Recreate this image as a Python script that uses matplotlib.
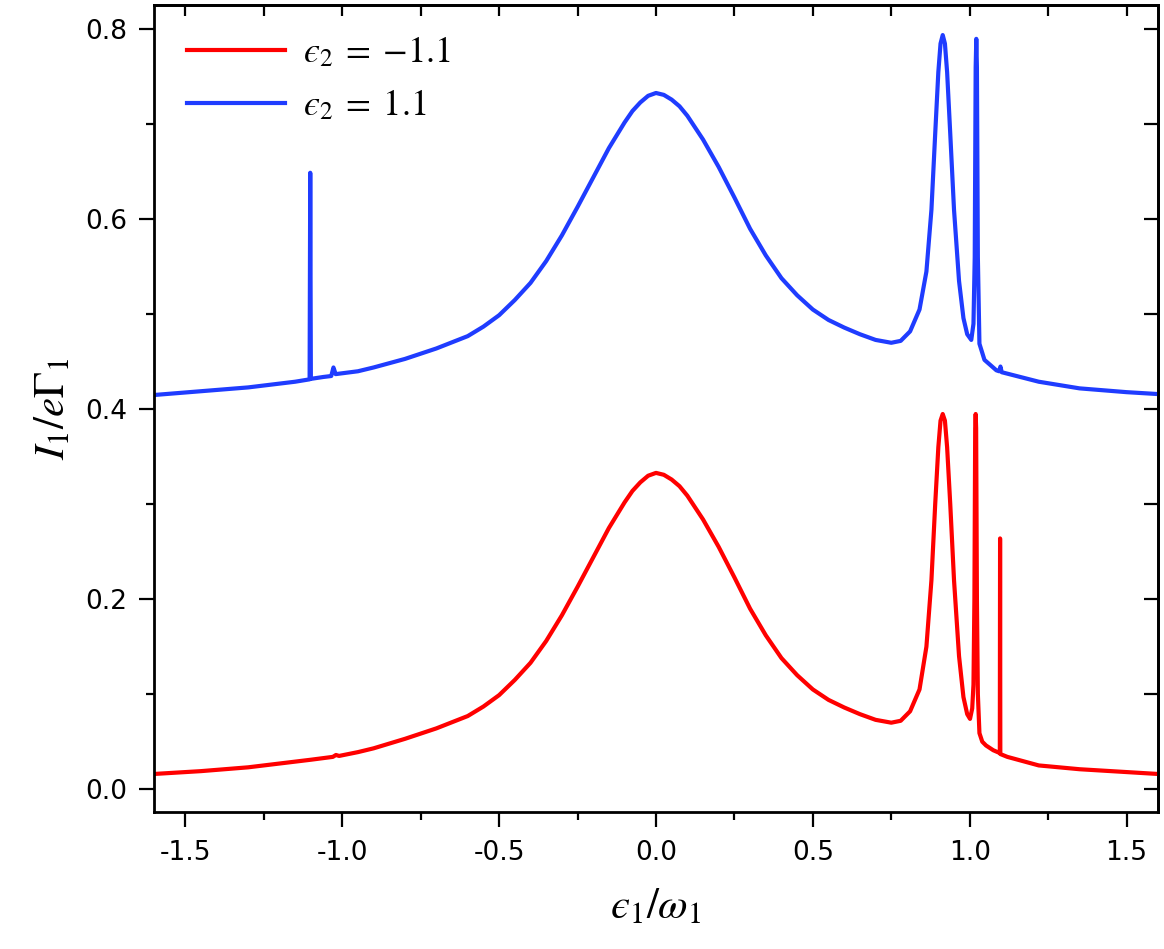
import numpy as np
import matplotlib
matplotlib.use("Agg")
import matplotlib.pyplot as plt
from matplotlib.ticker import MultipleLocator, FormatStrFormatter

plt.rcParams["font.family"] = ["DejaVu Sans"]
plt.rcParams["mathtext.fontset"] = "stix"
plt.rcParams["axes.unicode_minus"] = False

# eps2 = -1.1 (red)
x_red = [-1.6, -1.45, -1.3, -1.15, -1.1, -1.03, -1.02, -1.01, -0.95, -0.9,
         -0.8, -0.7, -0.6, -0.55, -0.5, -0.45, -0.4, -0.35, -0.3, -0.25,
         -0.2, -0.15, -0.1, -0.075, -0.05, -0.025, 0.0, 0.025, 0.05, 0.075,
         0.1, 0.15, 0.2, 0.25, 0.3, 0.35, 0.4, 0.45, 0.5, 0.55,
         0.6, 0.65, 0.7, 0.75, 0.78, 0.81, 0.84, 0.862, 0.878, 0.89,
         0.9, 0.907, 0.914, 0.921, 0.928, 0.938, 0.95, 0.966, 0.98, 0.992,
         1.001, 1.008, 1.012, 1.015, 1.0175, 1.019, 1.0205, 1.023, 1.026, 1.031,
         1.04, 1.052, 1.075, 1.096, 1.0968, 1.0976, 1.12, 1.22, 1.35, 1.5,
         1.6]
y_red = [0.016, 0.019, 0.023, 0.029, 0.031, 0.034, 0.036, 0.035, 0.039, 0.043,
         0.053, 0.064, 0.077, 0.087, 0.099, 0.115, 0.133, 0.156, 0.183, 0.213,
         0.244, 0.275, 0.302, 0.314, 0.323, 0.330, 0.333, 0.331, 0.326, 0.319,
         0.309, 0.284, 0.255, 0.223, 0.190, 0.162, 0.138, 0.120, 0.105, 0.094,
         0.086, 0.079, 0.073, 0.070, 0.072, 0.082, 0.105, 0.150, 0.220, 0.300,
         0.360, 0.388, 0.395, 0.388, 0.360, 0.300, 0.220, 0.140, 0.097, 0.079,
         0.074, 0.085, 0.110, 0.200, 0.380, 0.395, 0.380, 0.200, 0.100, 0.059,
         0.050, 0.046, 0.041, 0.038, 0.264, 0.037, 0.034, 0.025, 0.021, 0.018,
         0.016]

# eps2 = 1.1 (blue)
x_blue = [-1.6, -1.45, -1.3, -1.15, -1.104, -1.102, -1.1, -1.06, -1.035, -1.028,
          -1.021, -0.95, -0.9, -0.8, -0.7, -0.6, -0.55, -0.5, -0.45, -0.4,
          -0.35, -0.3, -0.25, -0.2, -0.15, -0.1, -0.075, -0.05, -0.025, 0.0,
          0.025, 0.05, 0.075, 0.1, 0.15, 0.2, 0.25, 0.3, 0.35, 0.4,
          0.45, 0.5, 0.55, 0.6, 0.65, 0.7, 0.75, 0.78, 0.81, 0.84,
          0.862, 0.878, 0.89, 0.9, 0.907, 0.914, 0.921, 0.928, 0.938, 0.95,
          0.966, 0.98, 0.992, 1.005, 1.012, 1.016, 1.019, 1.021, 1.023, 1.026,
          1.031, 1.047, 1.085, 1.094, 1.098, 1.102, 1.22, 1.35, 1.5, 1.6]
y_blue = [0.415, 0.419, 0.423, 0.429, 0.4315, 0.649, 0.432, 0.434, 0.435, 0.444,
          0.437, 0.440, 0.444, 0.453, 0.464, 0.477, 0.487, 0.499, 0.515, 0.533,
          0.556, 0.583, 0.613, 0.644, 0.675, 0.702, 0.714, 0.723, 0.730, 0.733,
          0.731, 0.726, 0.719, 0.709, 0.684, 0.655, 0.623, 0.590, 0.562, 0.538,
          0.520, 0.505, 0.494, 0.486, 0.479, 0.473, 0.470, 0.472, 0.482, 0.505,
          0.545, 0.610, 0.690, 0.755, 0.785, 0.794, 0.785, 0.755, 0.690, 0.610,
          0.535, 0.496, 0.479, 0.473, 0.490, 0.560, 0.760, 0.790, 0.760, 0.560,
          0.469, 0.452, 0.441, 0.440, 0.445, 0.439, 0.429, 0.422, 0.418, 0.416]

labels = ["$\u03f5_2\\;=\\;{-}1.1$", "$\u03f5_2\\;=\\;1.1$"]
colors = ["#ff0000", "#1f3cff"]

fig = plt.figure(figsize=(11.64, 9.49), dpi=100)
ax = fig.add_axes([0.1323, 0.1444, 0.8625, 0.8507])

ax.plot(x_red, y_red, color=colors[0], lw=3, label=labels[0], solid_joinstyle="round")
ax.plot(x_blue, y_blue, color=colors[1], lw=3, label=labels[1], solid_joinstyle="round")

ax.set_xlim(-1.6, 1.6)
ax.set_ylim(-0.024, 0.826)

ax.xaxis.set_major_locator(MultipleLocator(0.5))
ax.xaxis.set_minor_locator(MultipleLocator(0.25))
ax.yaxis.set_major_locator(MultipleLocator(0.2))
ax.yaxis.set_minor_locator(MultipleLocator(0.1))
ax.xaxis.set_major_formatter(FormatStrFormatter("%.1f"))
ax.yaxis.set_major_formatter(FormatStrFormatter("%.1f"))

ax.tick_params(which="major", direction="out", length=11, width=1.6, labelsize=19)
ax.tick_params(axis="x", which="major", pad=9)
ax.tick_params(axis="y", which="major", pad=8)
ax.tick_params(which="minor", direction="out", length=5.5, width=1.6)

for s in ax.spines.values():
    s.set_linewidth(2)

# inward ticks on top and right
top = ax.secondary_xaxis("top")
top.set_xticks(np.arange(-1.5, 1.51, 0.25))
top.tick_params(direction="in", length=8, width=1.6, labeltop=False)
top.spines["top"].set_linewidth(2)
right = ax.secondary_yaxis("right")
right.set_yticks(np.arange(0.0, 0.81, 0.1))
right.tick_params(direction="in", length=10, width=1.6, labelright=False)
right.spines["right"].set_linewidth(2)

ax.set_xlabel("$\u03f5_1/\\omega_1$", fontsize=31, labelpad=14)
ax.set_ylabel(r"$I_1/e\Gamma_1$", fontsize=31, labelpad=9)

ax.legend(loc="upper left", bbox_to_anchor=(0.033, 0.963), frameon=False,
          fontsize=26, handlelength=2.7, handletextpad=0.5, labelspacing=0.5,
          borderaxespad=0, borderpad=0)

fig.savefig("out.png", dpi=100)
